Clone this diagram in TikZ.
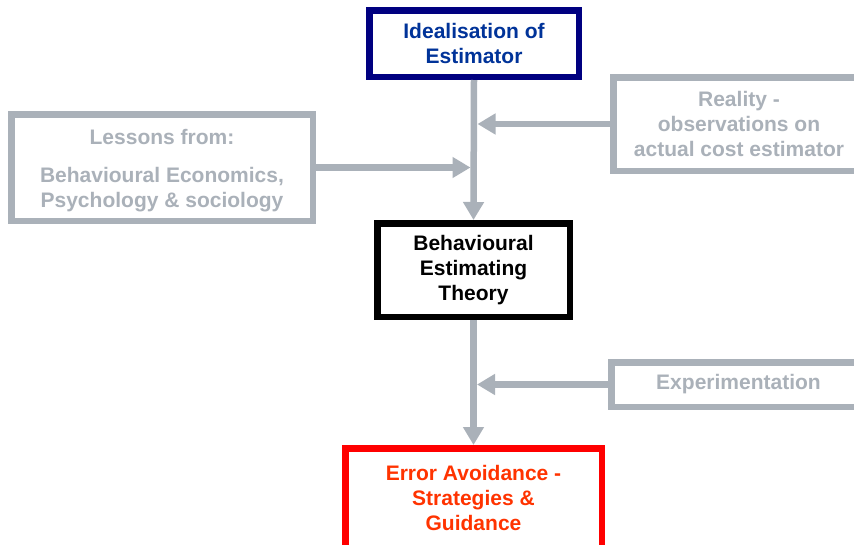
\documentclass[tikz,border=0pt]{standalone}
\usepackage{fontspec}
\setmainfont{Liberation Sans}
\usetikzlibrary{arrows.meta,calc}
\definecolor{greyc}{RGB}{170,177,185}
\definecolor{navyb}{RGB}{0,0,128}
\definecolor{navyt}{RGB}{0,51,153}
\definecolor{redb}{RGB}{255,0,0}
\definecolor{redt}{RGB}{255,51,0}
\tikzset{
  box/.style={draw, rectangle, line width=6.5pt, inner sep=0pt, align=center,
    font=\fontsize{21}{25}\selectfont\bfseries, fill=white},
  greybox/.style={box, draw=greyc, text=greyc},
  arr/.style={draw=greyc, line width=6.5pt, -{Triangle[length=18pt,width=20pt]}}
}
\begin{document}
\begin{tikzpicture}[x=1pt,y=-1pt]
\useasboundingbox (0,0) rectangle (854,544);
\clip (0,0) rectangle (854,544);
\fill[white] (0,0) rectangle (854,544);
\node[box, draw=navyb, text=navyt, minimum width=209.5pt, minimum height=66.5pt] (top) at (474,43.5) {Idealisation of\\Estimator};
\node[greybox, minimum width=301.5pt, minimum height=106.5pt] (lessons) at (162,167.5) {\rule{0pt}{21pt}Lessons from:\\[13pt]Behavioural Economics,\\Psychology \& sociology};
\node[greybox, minimum width=251.5pt, minimum height=93.5pt] (real) at (739,124) {Reality -\\observations on\\actual cost estimator};
\node[box, draw=black, text=black, minimum width=192.5pt, minimum height=93.5pt] (mid) at (473.5,270) {Behavioural\\Estimating\\Theory};
\node[greybox, minimum width=254.5pt, minimum height=44.5pt] (exp) at (738.5,384.5) {Experimentation};
\node[box, draw=redb, text=redt, minimum width=256.5pt, minimum height=99.5pt] (err) at (473.5,498) {Error Avoidance -\\Strategies \&\\Guidance};
\draw[arr] (top.south) -- (mid.north);
\draw[arr] (mid.south) -- (err.north);
\draw[arr] (real.west) -- ($(real.west -| top.south)+(3.5,0)$);
\draw[arr] (lessons.east) -- ($(lessons.east -| top.south)+(-3.5,0)$);
\draw[arr] (exp.west) -- ($(exp.west -| mid.south)+(3.5,0)$);
\end{tikzpicture}
\end{document}
